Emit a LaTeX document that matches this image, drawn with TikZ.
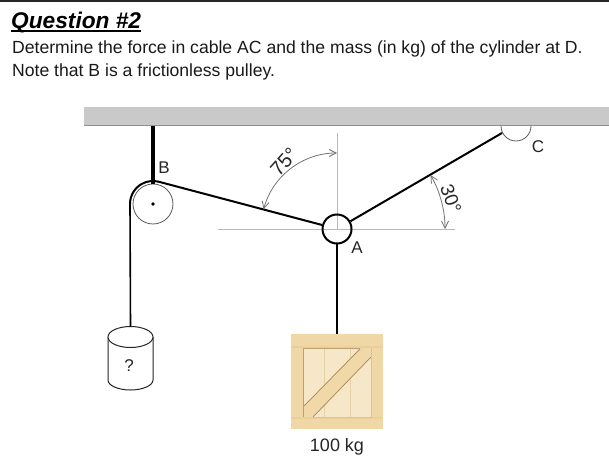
\documentclass[tikz,border=0pt]{standalone}
\usepackage{fontspec}
\setmainfont{Liberation Sans}
\usetikzlibrary{arrows.meta}
\definecolor{beamc}{HTML}{C9C9C9}
\definecolor{beamd}{HTML}{8F8F8F}
\definecolor{framec}{HTML}{F0D7A6}
\definecolor{framed}{HTML}{EBCF9B}
\definecolor{stilec}{HTML}{E6D2A8}
\definecolor{panelc}{HTML}{F6E7C8}
\definecolor{bracec}{HTML}{F0D8A8}
\definecolor{edgec}{HTML}{A8894F}
\tikzset{
  cable/.style={draw=black,line width=2pt},
  thincable/.style={draw=black,line width=1.6pt},
  guide/.style={draw=black!28,line width=0.6pt},
  dim/.style={draw=black!55,line width=0.8pt,{Straight Barb[length=7pt,width=7pt]}-{Straight Barb[length=7pt,width=7pt]}},
  lbl/.style={inner sep=0pt,font=\fontsize{17}{19}\selectfont,text=black!85},
  para/.style={inner sep=0pt,anchor=base west,font=\fontsize{17.6}{22}\selectfont,text=black!90},
}
\begin{document}
\begin{tikzpicture}[x=1pt,y=1pt]
\useasboundingbox (0,0) rectangle (609,455);
\fill[black!85] (0,453.4) rectangle (609,455);
% texts
\node[para,font=\fontsize{22.7}{26}\selectfont\bfseries\itshape,text=black] (title) at (11,426.5) {Question \#2};
\draw[black,line width=1.8pt] (10.5,424) -- (140.5,424);
\node[para] (l1) at (12,401) {Determine the force in cable AC and the mass (in kg) of the cylinder at D.};
\node[para] (l2) at (12,378) {Note that B is a frictionless pulley.};
% guides
\coordinate (hl) at (218,226);
\coordinate (hr) at (455,226);
\coordinate (vt) at (337,322);
\coordinate (vb) at (337,226);
\draw[guide] (hl) -- (hr);
\draw[guide] (vt) -- (vb);
% hook C
\coordinate (Cc) at (516,329);
\draw[black!65,line width=0.8pt] (501,329) arc[start angle=180,end angle=360,radius=15];
% beam
\fill[beamc] (84,329) rectangle (609,348);
\fill[beamd] (84,329) rectangle (609,330.3);
% pulley
\node[circle,draw=black!65,line width=0.8pt,fill=white,minimum size=40pt,inner sep=0pt] (pulley) at (153,251) {};
\fill[black] (pulley.center) circle (1.8);
\coordinate (rodtop) at (153,329);
\draw[black,line width=3.4pt] (rodtop) -- (pulley.north);
% ring A
\node[circle,draw=black,line width=2pt,minimum size=29pt,inner sep=0pt] (A) at (337,226) {};
% cylinder
\coordinate (cylt) at (130.5,118);
\draw[black!85,line width=1pt,fill=white] (108,118) -- (108,75) arc[start angle=180,end angle=360,x radius=22.5,y radius=10] -- (153,118);
\draw[black!85,line width=1pt,fill=white] (cylt) ellipse[x radius=22.5,y radius=10.5];
\node[lbl,text=black!85] (q) at (129,89) {?};
% crate
\fill[framec] (291,26) rectangle (383,121);
\fill[framed] (291,107) rectangle (383,109);
\fill[framed] (291,36) rectangle (383,38);
\fill[panelc] (303,38) rectangle (371,107);
\foreach \px in {324,350}{\draw[stilec,line width=0.6pt] (\px,38) -- (\px,107);}
\fill[bracec] (360,107) -- (371,107) -- (371,98) -- (313,38) -- (303,38) -- (303,48) -- cycle;
\draw[edgec,line width=0.7pt] (360,106) -- (303,48);
\draw[edgec,line width=0.7pt] (371,98) -- (313,38);
\draw[edgec!80,line width=1pt] (303,38) -- (303,107) -- (360,107);
\draw[edgec!50,line width=0.7pt] (371,107) -- (371,38) -- (313,38);
\node[inner sep=0pt,minimum width=92pt,minimum height=95pt] (crate) at (337,73.5) {};
% cables
\draw[thincable] (cylt) ++(0,10.5) -- (130,251);
\draw[cable] (130,251) arc[start angle=180,end angle=75,radius=23] -- (A.165);
\coordinate (cabC) at (502,322);
\draw[cable] (A.30) -- (cabC);
\draw[cable] (A.south) -- (crate.north);
% angles
\coordinate (a0) at (445,226);
\draw[dim] (a0) arc[start angle=0,end angle=30,radius=108];
\coordinate (a90) at (337,302);
\draw[dim] (a90) arc[start angle=90,end angle=165,radius=76];
% labels
\node[lbl] (lB) at (164,287) {B};
\node[lbl] (lA) at (357,207) {A};
\node[lbl] (lC) at (538,308) {C};
\node[lbl,rotate=48,font=\fontsize{20}{22}\selectfont] (l75) at (284,293) {75°};
\node[lbl,rotate=-70,font=\fontsize{19}{21}\selectfont] (l30) at (451,256) {30°};
\node[lbl,font=\fontsize{18}{20}\selectfont] (kg) at (337,8.5) {100 kg};
\end{tikzpicture}
\end{document}
